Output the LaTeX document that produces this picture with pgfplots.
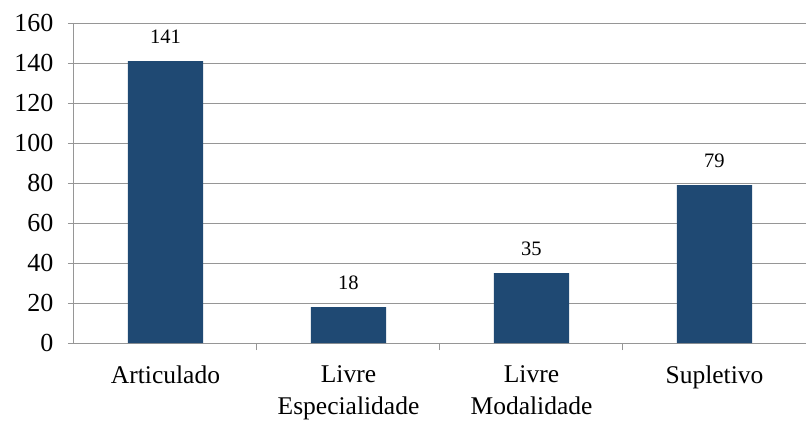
\documentclass[border=0pt]{standalone}
\usepackage{fontspec}
\setmainfont{Liberation Serif}
\usepackage{pgfplots}
\pgfplotsset{compat=1.18}
\definecolor{barblue}{RGB}{31,73,115}
\definecolor{gridgray}{RGB}{150,150,150}
\begin{document}
\begin{tikzpicture}
\begin{axis}[
  scale only axis,
  width=732pt, height=320pt,
  at={(0,0)}, anchor=south west,
  xmin=-0.5, xmax=3.5,
  ymin=0, ymax=160,
  ytick={0,20,...,160},
  xtick={0,1,2,3},
  xticklabels={Articulado,{Livre\\Especialidade},{Livre\\Modalidade},Supletivo},
  minor xtick={0.5,1.5,2.5},
  tick pos=left,
  tick align=outside,
  major tick length=6pt,
  minor tick length=7pt,
  every major x tick/.append style={draw=none},
  tick style={gridgray, line width=1pt},
  ymajorgrids,
  grid style={gridgray, line width=1pt},
  axis line style={gridgray, line width=1pt},
  axis x line*=bottom,
  axis y line*=left,
  xticklabel style={font=\fontsize{25.5}{32}\selectfont, align=center, anchor=north, yshift=-13.5pt},
  yticklabel style={font=\fontsize{26}{29}\selectfont, xshift=-11pt},
  /pgf/number format/assume math mode=true,
  ybar,
  bar width=0.41,
  nodes near coords,
  every node near coord/.append style={font=\fontsize{20.5}{24}\selectfont, black, yshift=14pt},
]
\addplot[fill=barblue, draw=none] coordinates {(0,141) (1,18) (2,35) (3,79)};
\end{axis}
\pgfresetboundingbox
\path[use as bounding box] (-74pt,-78pt) rectangle (735pt,343pt);
\end{tikzpicture}
\end{document}
